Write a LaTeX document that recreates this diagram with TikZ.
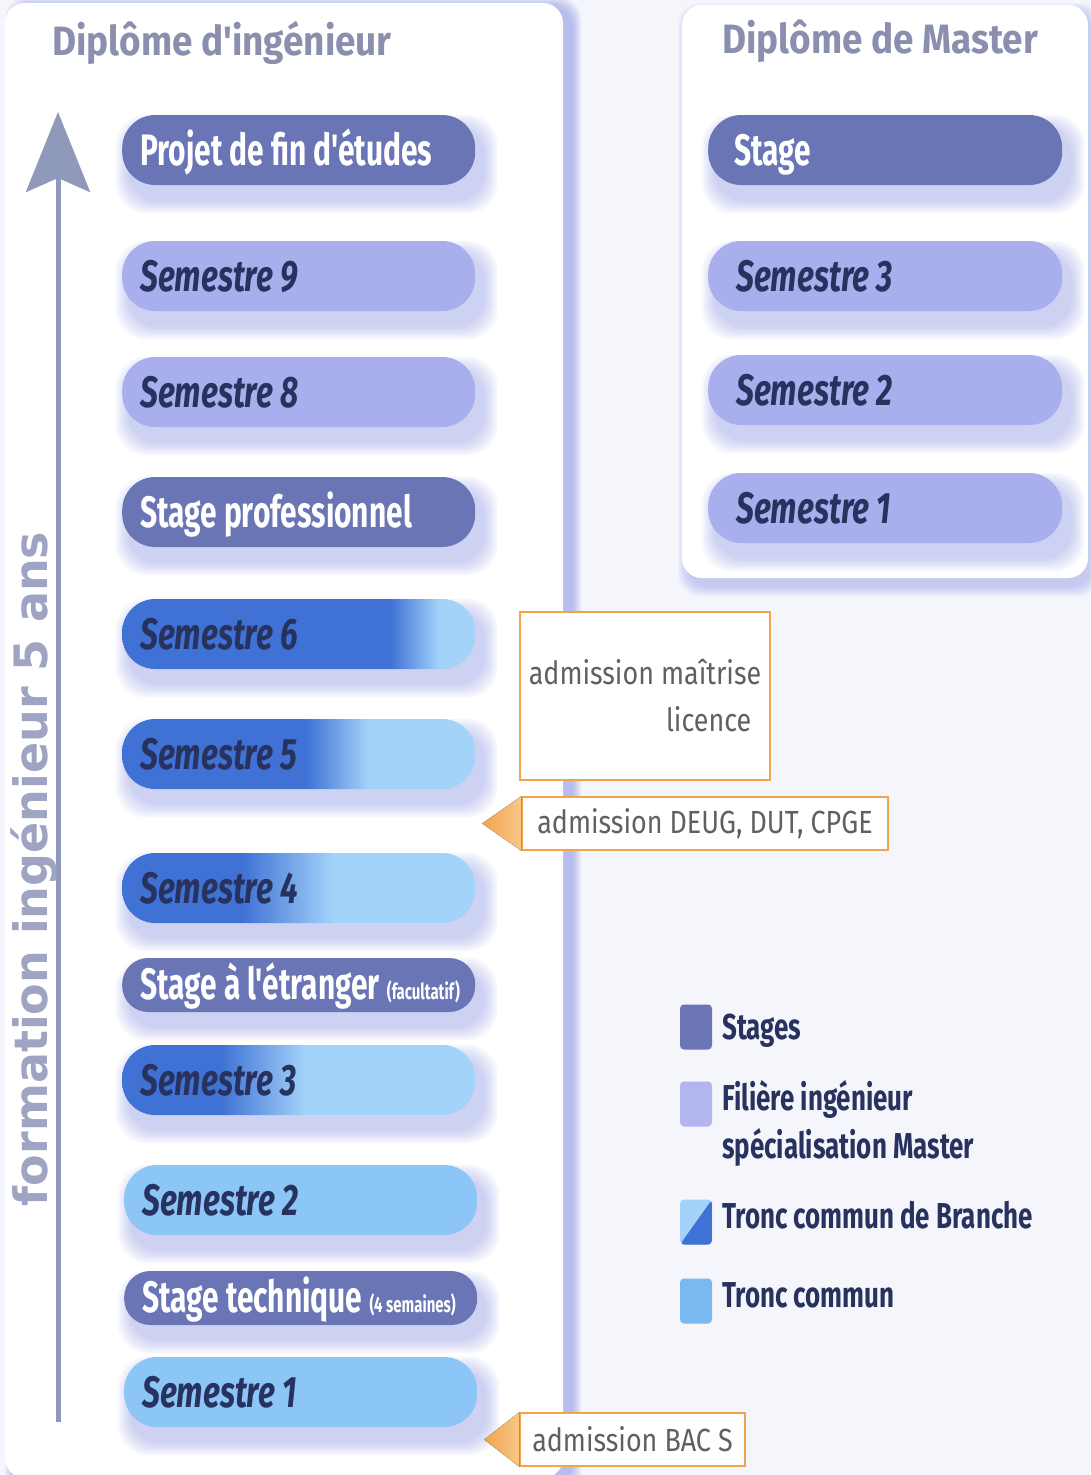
\documentclass[tikz,border=0pt]{standalone}
\usepackage{fontspec}
\setmainfont{Fira Sans}
\newfontfamily\pillfont[FakeStretch=0.72]{Fira Sans}
\newfontfamily\stgfont[FakeStretch=0.68]{Fira Sans}
\newfontfamily\admfont[FakeStretch=0.84]{Fira Sans}
\newfontfamily\headfont[FakeStretch=0.9]{Fira Sans}
\newfontfamily\vertfont{DejaVu Sans}
\usetikzlibrary{arrows.meta}
\definecolor{bgc}{HTML}{F5F5FC}
\definecolor{shc}{HTML}{8C96E6}
\definecolor{stagec}{HTML}{6A75B5}
\definecolor{filc}{HTML}{A9AEEC}
\definecolor{dkb}{HTML}{3F72D4}
\definecolor{ltb}{HTML}{A4D3FA}
\definecolor{tronc}{HTML}{8CC6F6}
\definecolor{txtd}{HTML}{28325E}
\definecolor{headc}{HTML}{8A8FAE}
\definecolor{arrowc}{HTML}{8F99B9}
\definecolor{vertc}{HTML}{9EA4C2}
\definecolor{orc}{HTML}{F2A44C}
\definecolor{orl}{HTML}{F8C888}
\definecolor{admtxt}{HTML}{606060}
\definecolor{legst}{HTML}{6B74B4}
\definecolor{legfil}{HTML}{B2B5EE}
\definecolor{legtr}{HTML}{7AB8F0}
\pgfdeclarehorizontalshading{shsix}{100bp}{color(0bp)=(dkb); color(63bp)=(dkb); color(70bp)=(ltb); color(100bp)=(ltb)}
\pgfdeclarehorizontalshading{shfive}{100bp}{color(0bp)=(dkb); color(51bp)=(dkb); color(60bp)=(ltb); color(100bp)=(ltb)}
\pgfdeclarehorizontalshading{shfour}{100bp}{color(0bp)=(dkb); color(42bp)=(dkb); color(55bp)=(ltb); color(100bp)=(ltb)}
\pgfdeclarehorizontalshading{shthree}{100bp}{color(0bp)=(dkb); color(39bp)=(dkb); color(51bp)=(ltb); color(100bp)=(ltb)}
\pgfdeclarelayer{shad}
\pgfsetlayers{shad,main}
\begin{document}
\begin{tikzpicture}[x=1pt,y=-1pt,
  pill/.style={rounded corners=33pt, minimum width=353pt, minimum height=70pt, inner sep=0pt, anchor=west},
  pillsm/.style={pill, rounded corners=26pt, minimum height=54pt},
  stg/.style={fill=stagec},
  fil/.style={fill=filc},
  trc/.style={fill=tronc},
  semtxt/.style={anchor=base west, inner sep=0pt, text=txtd, font=\pillfont\fontsize{44}{48}\selectfont\bfseries\itshape},
  stgtxt/.style={anchor=base west, inner sep=0pt, text=white, font=\stgfont\fontsize{44}{48}\selectfont\bfseries},
  headtxt/.style={anchor=base west, inner sep=0pt, text=headc, font=\headfont\fontsize{41}{46}\selectfont\bfseries},
  admbox/.style={draw=orc, line width=1.5pt, fill=white, text=admtxt, inner sep=0pt, font=\admfont\fontsize{32}{47}\selectfont},
  legsq/.style={minimum width=32pt, minimum height=45pt, inner sep=0pt, rounded corners=4pt},
  legtxt/.style={anchor=base west, inner sep=0pt, text=txtd, font=\pillfont\fontsize{36}{48}\selectfont\bfseries, align=left}
]
\useasboundingbox (0,0) rectangle (1090,1475);
\begin{pgfonlayer}{shad}
  \fill[bgc] (0,0) rectangle (1090,1475);
  \foreach \k in {1,...,10} \fill[shc, opacity=0.08, rounded corners=22pt] (15-\k, 7-\k) rectangle (571+\k, 1484+\k);
  \fill[white, rounded corners=20pt] (5,3) rectangle (563,1478);
  \foreach \k in {1,...,10} \fill[shc, opacity=0.05, rounded corners=22pt] (688-\k, 13-\k) rectangle (1092+\k, 586+\k);
  \fill[white, rounded corners=20pt] (682,5) rectangle (1088,578);
\end{pgfonlayer}

% headers
\node[headtxt] (h1) at (52,55) {Diplôme d'ingénieur};
\node[headtxt] (h2) at (722,53) {Diplôme de Master};

% vertical arrow and label
\coordinate (abot) at (58,1422);
\coordinate (atop) at (58,112);
\draw[arrowc, line width=5pt, -{Stealth[length=80pt, width=64pt, inset=14pt]}] (abot) -- (atop);
\node[rotate=90, anchor=base, inner sep=0pt, text=vertc, font=\vertfont\fontsize{46}{50}\selectfont\bfseries] (vt) at (47,869) {formation ingénieur 5 ans};

% left column pills
\node[pill, stg] (p1) at (122,150) {};
\node[stgtxt] (p1t) at ([shift={(18,15)}]p1.west) {Projet de fin d'études};
\node[pill, fil] (p2) at (122,276) {};
\node[semtxt] (p2t) at ([shift={(18,15)}]p2.west) {Semestre 9};
\node[pill, fil] (p3) at (122,392) {};
\node[semtxt] (p3t) at ([shift={(18,15)}]p3.west) {Semestre 8};
\node[pill, stg] (p4) at (122,512) {};
\node[stgtxt] (p4t) at ([shift={(18,15)}]p4.west) {Stage professionnel};
\node[pill, shade, shading=shsix] (p5) at (122,634) {};
\node[semtxt] (p5t) at ([shift={(18,15)}]p5.west) {Semestre 6};
\node[pill, shade, shading=shfive] (p6) at (122,754) {};
\node[semtxt] (p6t) at ([shift={(18,15)}]p6.west) {Semestre 5};
\node[pill, shade, shading=shfour] (p7) at (122,888) {};
\node[semtxt] (p7t) at ([shift={(18,15)}]p7.west) {Semestre 4};
\node[pillsm, stg] (p8) at (122,985) {};
\node[stgtxt] (p8t) at ([shift={(18,14)}]p8.west) {Stage à l'étranger {\fontsize{22}{24}\selectfont (facultatif)}};
\node[pill, shade, shading=shthree] (p9) at (122,1080) {};
\node[semtxt] (p9t) at ([shift={(18,15)}]p9.west) {Semestre 3};
\node[pill, trc] (p10) at (124,1200) {};
\node[semtxt] (p10t) at ([shift={(18,15)}]p10.west) {Semestre 2};
\node[pillsm, stg] (p11) at (124,1298) {};
\node[stgtxt] (p11t) at ([shift={(18,14)}]p11.west) {Stage technique {\fontsize{22}{24}\selectfont (4 semaines)}};
\node[pill, trc] (p12) at (124,1392) {};
\node[semtxt] (p12t) at ([shift={(18,15)}]p12.west) {Semestre 1};

% right column pills
\node[pill, stg, minimum width=354pt] (m1) at (708,150) {};
\node[stgtxt] (m1t) at ([shift={(26,15)}]m1.west) {Stage};
\node[pill, fil, minimum width=354pt] (m2) at (708,276) {};
\node[semtxt] (m2t) at ([shift={(28,15)}]m2.west) {Semestre 3};
\node[pill, fil, minimum width=354pt] (m3) at (708,390) {};
\node[semtxt] (m3t) at ([shift={(28,15)}]m3.west) {Semestre 2};
\node[pill, fil, minimum width=354pt] (m4) at (708,508) {};
\node[semtxt] (m4t) at ([shift={(28,15)}]m4.west) {Semestre 1};

% pill shadows
\begin{pgfonlayer}{shad}
  \foreach \n in {p1,p2,p3,p4,p5,p6,p7,p8,p9,p10,p11,p12,m1,m2,m3,m4} {
    \foreach \k in {1,...,7} {
      \fill[shc, opacity=0.07, rounded corners=30pt] ([shift={(8-2*\k,14-2*\k)}]\n.north west) rectangle ([shift={(8+2*\k,14+2*\k)}]\n.south east);
    }
  }
\end{pgfonlayer}

% admission boxes
\node[admbox, minimum width=250pt, minimum height=168pt, align=right] (am) at (645,696) {admission maîtrise\\licence\hspace*{10pt}};
\node[admbox, minimum width=366pt, minimum height=53pt] (ad) at (705,823.5) {admission DEUG, DUT, CPGE};
\fill[left color=orc, right color=orl] (ad.north west) -- ([xshift=-39pt]ad.west) -- (ad.south west) -- cycle;
\node[admbox, minimum width=225pt, minimum height=53pt] (ab) at (632.5,1439.5) {admission BAC S};
\fill[left color=orc, right color=orl] (ab.north west) -- ([xshift=-35pt]ab.west) -- (ab.south west) -- cycle;

% legend
\node[legsq, fill=legst] (l1) at (696,1027) {};
\node[legtxt] (l1t) at (722,1039) {Stages};
\node[legsq, fill=legfil] (l2) at (696,1104) {};
\node[legtxt] (l2t) at (722,1110) {Filière ingénieur};
\node[legtxt] (l2u) at (722,1158) {spécialisation Master};
\node[legsq, fill=ltb, path picture={\fill[dkb] (path picture bounding box.north east) -- (path picture bounding box.south east) -- (path picture bounding box.south west) -- cycle;}] (l3) at (696,1222) {};
\node[legtxt] (l3t) at (722,1228) {Tronc commun de Branche};
\node[legsq, fill=legtr] (l4) at (696,1301) {};
\node[legtxt] (l4t) at (722,1307) {Tronc commun};
\end{tikzpicture}
\end{document}
